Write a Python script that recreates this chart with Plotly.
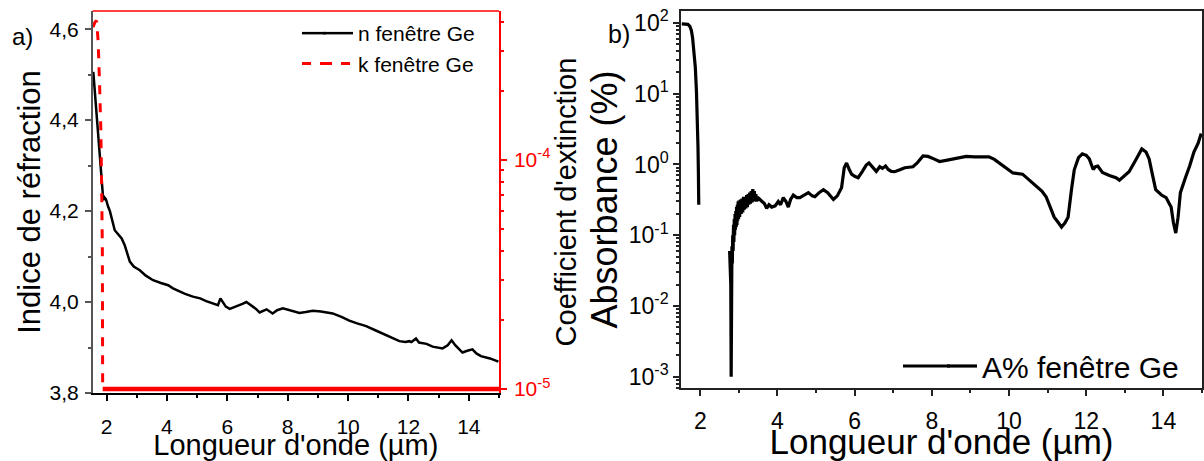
import plotly.graph_objects as go

# ---------------- data: panel a) ----------------
n_x = [1.56, 1.65, 1.75, 1.82, 1.89, 1.93, 1.98, 2.05, 2.11, 2.27, 2.5, 2.6, 2.77, 2.9, 3.1,
       3.3, 3.54, 3.8, 4.04, 4.2, 4.42, 4.6, 4.86, 5.1, 5.3, 5.5, 5.69, 5.77, 5.85, 5.95,
       6.08, 6.3, 6.5, 6.63, 6.8, 6.95, 7.07, 7.3, 7.5, 7.65, 7.84, 8.0, 8.17, 8.39, 8.6,
       8.83, 9.1, 9.49, 9.8, 10.04, 10.3, 10.6, 10.9, 11.14, 11.4, 11.7, 11.9, 12.03, 12.1,
       12.25, 12.35, 12.47, 12.6, 12.8, 13.13, 13.3, 13.43, 13.55, 13.79, 13.95, 14.12,
       14.25, 14.4, 14.7, 14.98]
n_vals = [4.506, 4.43, 4.356, 4.29, 4.224, 4.23, 4.226, 4.21, 4.20, 4.158, 4.14, 4.125, 4.089,
          4.078, 4.07, 4.058, 4.048, 4.042, 4.037, 4.03, 4.023, 4.018, 4.012, 4.008, 4.002,
          3.998, 3.993, 4.008, 4.0, 3.99, 3.985, 3.99, 3.996, 4.0, 3.992, 3.985, 3.977, 3.984,
          3.975, 3.982, 3.986, 3.983, 3.979, 3.976, 3.978, 3.981, 3.979, 3.975, 3.967, 3.959,
          3.953, 3.947, 3.938, 3.931, 3.923, 3.914, 3.912, 3.914, 3.912, 3.92, 3.911, 3.91,
          3.908, 3.902, 3.898, 3.905, 3.916, 3.905, 3.889, 3.893, 3.896, 3.887, 3.881, 3.876,
          3.869]

k_x = [1.55, 1.62, 1.67, 1.72, 1.77, 1.81, 1.84, 1.86, 1.87, 15.0]
k_vals = [3.8e-4, 4.0e-4, 4.05e-4, 3.3e-4, 2.1e-4, 1.35e-4, 7e-5, 4e-5, 1e-5, 1e-5]
k_split = 8  # index where the flat floor begins

# ---------------- data: panel b) ----------------
a_x = [1.52, 1.60, 1.68, 1.73, 1.77, 1.80, 1.84, 1.87, 1.90, 1.92, 1.94, 1.95, 1.96,
       None,
       2.76, 2.77, 2.78, 2.79, 2.80, 2.81, 2.82, 2.83, 2.84, 2.85, 2.86, 2.87, 2.88, 2.89,
       2.90, 2.91, 2.92, 2.93, 2.94, 2.95, 2.96, 2.97, 2.98, 2.99, 3.00, 3.02, 3.04, 3.06,
       3.08, 3.10, 3.12, 3.14, 3.16, 3.18, 3.20, 3.22, 3.24, 3.26, 3.28, 3.30, 3.32, 3.34,
       3.36, 3.38, 3.40, 3.42, 3.44, 3.46, 3.48, 3.50,
       3.52, 3.6, 3.66, 3.72, 3.78, 3.85, 3.94, 4.02, 4.08, 4.15, 4.22, 4.28, 4.34, 4.41,
       4.5, 4.58, 4.68, 4.8, 4.9, 4.97, 5.08, 5.19, 5.3, 5.45, 5.55, 5.66, 5.73, 5.79, 5.86,
       5.92, 6.0, 6.09, 6.2, 6.3, 6.37, 6.45, 6.52, 6.56, 6.65, 6.72, 6.8, 6.87, 6.95, 7.04,
       7.17, 7.3, 7.51, 7.62, 7.77, 7.9, 8.05, 8.2, 8.4, 8.6, 8.89, 9.1, 9.48, 9.62, 9.75,
       9.9, 10.1, 10.35, 10.5, 10.7, 10.85, 10.96, 11.05, 11.17, 11.28, 11.36, 11.45, 11.53,
       11.62, 11.69, 11.8, 11.9, 12.0, 12.08, 12.18, 12.24, 12.3, 12.42, 12.6, 12.77, 12.86,
       12.95, 13.11, 13.28, 13.44, 13.55, 13.63, 13.72, 13.8, 13.95, 14.07, 14.15, 14.2,
       14.26, 14.32, 14.38, 14.44, 14.57, 14.68, 14.79, 14.9, 14.98]
a_vals = [97, 97, 96, 90, 78, 62, 40, 24, 11, 6, 1.8, 0.8, 0.27,
          None,
          0.06, 0.025, 0.055, 0.02, 0.001, 0.03, 0.07, 0.04, 0.10, 0.06, 0.14, 0.08, 0.17,
          0.10, 0.20, 0.12, 0.22, 0.13, 0.25, 0.14, 0.27, 0.16, 0.30, 0.17, 0.31, 0.18, 0.32,
          0.20, 0.33, 0.21, 0.35, 0.23, 0.34, 0.24, 0.37, 0.25, 0.38, 0.27, 0.40, 0.28, 0.42,
          0.29, 0.45, 0.30, 0.42, 0.31, 0.38, 0.30, 0.35, 0.31,
          0.33, 0.30, 0.28, 0.24, 0.27, 0.25, 0.26, 0.30, 0.27, 0.34, 0.30, 0.25, 0.32, 0.37,
          0.34, 0.34, 0.37, 0.40, 0.36, 0.35, 0.40, 0.44, 0.40, 0.32, 0.36, 0.47, 0.9, 1.05,
          0.85, 0.73, 0.68, 0.65, 0.8, 0.98, 1.05, 0.92, 0.82, 0.80, 0.93, 0.88, 0.95, 0.85,
          0.80, 0.79, 0.84, 0.9, 0.93, 1.05, 1.32, 1.3, 1.2, 1.1, 1.15, 1.22, 1.3, 1.28, 1.28,
          1.18, 1.05, 0.9, 0.76, 0.73, 0.62, 0.49, 0.42, 0.35, 0.27, 0.18, 0.15, 0.13, 0.15,
          0.18, 0.45, 0.84, 1.25, 1.41, 1.35, 1.2, 0.85, 0.93, 0.95, 0.77, 0.7, 0.65, 0.6,
          0.66, 0.79, 1.15, 1.66, 1.5, 1.2, 0.7, 0.44, 0.37, 0.34, 0.28, 0.25, 0.15, 0.107,
          0.18, 0.4, 0.65, 0.95, 1.5, 2.0, 2.75]

x_ticks = [2, 4, 6, 8, 10, 12, 14]
x_minor = [3, 5, 7, 9, 11, 13, 15]
n_ticks = [3.8, 4.0, 4.2, 4.4, 4.6]
n_ticktext = ["3,8", "4,0", "4,2", "4,4", "4,6"]
n_minor = [3.9, 4.1, 4.3, 4.5]
k_ticks = [1e-5, 1e-4]
k_ticktext = ["10<sup>-5</sup>", "10<sup>-4</sup>"]
a_ticks = [1e-3, 1e-2, 1e-1, 1e0, 1e1, 1e2]
a_ticktext = ["10<sup>-3</sup>", "10<sup>-2</sup>", "10<sup>-1</sup>",
              "10<sup>0</sup>", "10<sup>1</sup>", "10<sup>2</sup>"]


def log_minor(lo_exp, hi_exp):
    return [m * 10 ** e for e in range(lo_exp, hi_exp) for m in range(2, 10)]


FONT = "Liberation Sans, Arial, sans-serif"
RED = "#ff0000"
W, H = 1204, 461
B = 68           # bottom margin (room for the x-axis titles)
PH = H - B       # plotting-area height in px


def px(x):
    return x / W


def py(y):
    return (PH - y) / PH


fig = go.Figure()

fig.add_trace(go.Scatter(x=n_x, y=n_vals, mode="lines", name="n fenêtre Ge",
                         line=dict(color="black", width=2.5), xaxis="x", yaxis="y",
                         legend="legend"))
fig.add_trace(go.Scatter(x=k_x[:k_split + 1], y=k_vals[:k_split + 1], mode="lines",
                         name="k fenêtre Ge",
                         line=dict(color=RED, width=3, dash="dash"), xaxis="x", yaxis="y2",
                         legend="legend"))
fig.add_trace(go.Scatter(x=k_x[k_split:], y=k_vals[k_split:], mode="lines",
                         name="k fenêtre Ge", showlegend=False,
                         line=dict(color=RED, width=4.5), xaxis="x", yaxis="y2"))
fig.add_trace(go.Scatter(x=a_x, y=a_vals, mode="lines", name="A% fenêtre Ge",
                         line=dict(color="black", width=3.2), connectgaps=False,
                         xaxis="x2", yaxis="y3", legend="legend2"))

common_axis = dict(showgrid=False, zeroline=False, showline=True, ticks="outside",
                   ticklen=6, tickwidth=1.5, linewidth=1.5, automargin=False)

# legend placement (pixels); plotly row centre = top + 5 + (1.3*font + 3)/2
LEG1_X, LEG1_TOP, LEG1_FONT = 318, 13, 21
LEG2_X, LEG2_TOP, LEG2_FONT = 942, 340, 30
row1 = (1.3 * LEG1_FONT + 3)
r1a = LEG1_TOP + 5 + row1 / 2
r1b = r1a + row1
r2a = LEG2_TOP + 5 + (1.3 * LEG2_FONT + 3) / 2
# longer legend sample lines (as drawn in the reference)
leg_ext = [
    dict(x0=302, x1=326, y=r1a, color="black", width=2.5, dash="solid"),
    dict(x0=302, x1=326, y=r1b, color=RED, width=3, dash="dash"),
    dict(x0=903, x1=950, y=r2a, color="black", width=3.2, dash="solid"),
]

shapes = [dict(type="line", xref="x domain", yref="y domain", x0=0, x1=1, y0=1, y1=1,
               line=dict(color=RED, width=1.5))]
for e in leg_ext:
    shapes.append(dict(type="line", xref="paper", yref="paper",
                       x0=px(e["x0"]), x1=px(e["x1"]), y0=py(e["y"]), y1=py(e["y"]),
                       line=dict(color=e["color"], width=e["width"], dash=e["dash"])))

fig.update_layout(
    width=W, height=H, autosize=False,
    margin=dict(l=0, r=0, t=0, b=B, autoexpand=False),
    paper_bgcolor="white", plot_bgcolor="white",
    font=dict(family=FONT, color="black"),
    xaxis=dict(common_axis, domain=[px(92.7), px(499)], range=[1.54, 15], anchor="y",
               tickvals=x_ticks, linecolor="black", tickcolor="black",
               minor=dict(ticks="outside", ticklen=3, tickvals=x_minor, tickcolor="black"),
               tickfont=dict(size=21), ticklabelstandoff=8,
               title=dict(text="Longueur d'onde (µm)", font=dict(size=29), standoff=3)),
    yaxis=dict(common_axis, domain=[py(393), py(11)], range=[3.8, 4.64], anchor="x",
               tickvals=n_ticks, ticktext=n_ticktext, linecolor="#555", tickcolor="#555",
               minor=dict(ticks="outside", ticklen=3, tickvals=n_minor, tickcolor="#555"),
               tickfont=dict(size=21), ticklabelstandoff=2,
               title=dict(text="Indice de réfraction", font=dict(size=31), standoff=0)),
    yaxis2=dict(common_axis, overlaying="y", side="right", anchor="x", type="log",
                range=[-5.017, -3.35], tickvals=k_ticks, ticktext=k_ticktext,
                linecolor=RED, tickcolor=RED, tickfont=dict(size=21, color=RED),
                ticklabelstandoff=3,
                minor=dict(ticks="outside", ticklen=3, tickvals=log_minor(-5, -3),
                           tickcolor=RED),
                title=dict(text="Coefficient d'extinction", font=dict(size=29, color="black"),
                           standoff=4)),
    xaxis2=dict(common_axis, domain=[px(681), px(1202)], range=[1.5, 15], anchor="y3",
                mirror=True, tickvals=x_ticks, linecolor="#222", tickcolor="#222",
                minor=dict(ticks="outside", ticklen=3, tickvals=x_minor, tickcolor="#222"),
                tickfont=dict(size=23), ticklabelstandoff=6,
                title=dict(text="Longueur d'onde (µm)", font=dict(size=35), standoff=4)),
    yaxis3=dict(common_axis, domain=[py(388), py(11)], type="log",
                range=[-3.16, 2.17], anchor="x2", mirror=True,
                tickvals=a_ticks, ticktext=a_ticktext, linecolor="#222", tickcolor="#222",
                minor=dict(ticks="outside", ticklen=3, tickvals=log_minor(-4, 3),
                           tickcolor="#222"),
                tickfont=dict(size=23),
                title=dict(text="Absorbance (%)", font=dict(size=36), standoff=0)),
    legend=dict(x=px(LEG1_X), y=py(LEG1_TOP), xanchor="left", yanchor="top",
                bgcolor="rgba(0,0,0,0)", font=dict(size=LEG1_FONT), tracegroupgap=0,
                itemwidth=30),
    legend2=dict(x=px(LEG2_X), y=py(LEG2_TOP), xanchor="left", yanchor="top",
                 bgcolor="rgba(0,0,0,0)", font=dict(size=LEG2_FONT), itemwidth=30),
    showlegend=True,
    shapes=shapes,
    annotations=[
        dict(text="a)", x=px(22), y=py(36), xref="paper", yref="paper",
             xanchor="center", yanchor="middle", showarrow=False, font=dict(size=24)),
        dict(text="b)", x=px(619), y=py(34), xref="paper", yref="paper",
             xanchor="center", yanchor="middle", showarrow=False, font=dict(size=25)),
    ],
)

fig.write_html("out.html", config={"displayModeBar": False},
               post_script="document.body.style.margin='0px';"
                           "document.body.style.overflow='hidden';")
